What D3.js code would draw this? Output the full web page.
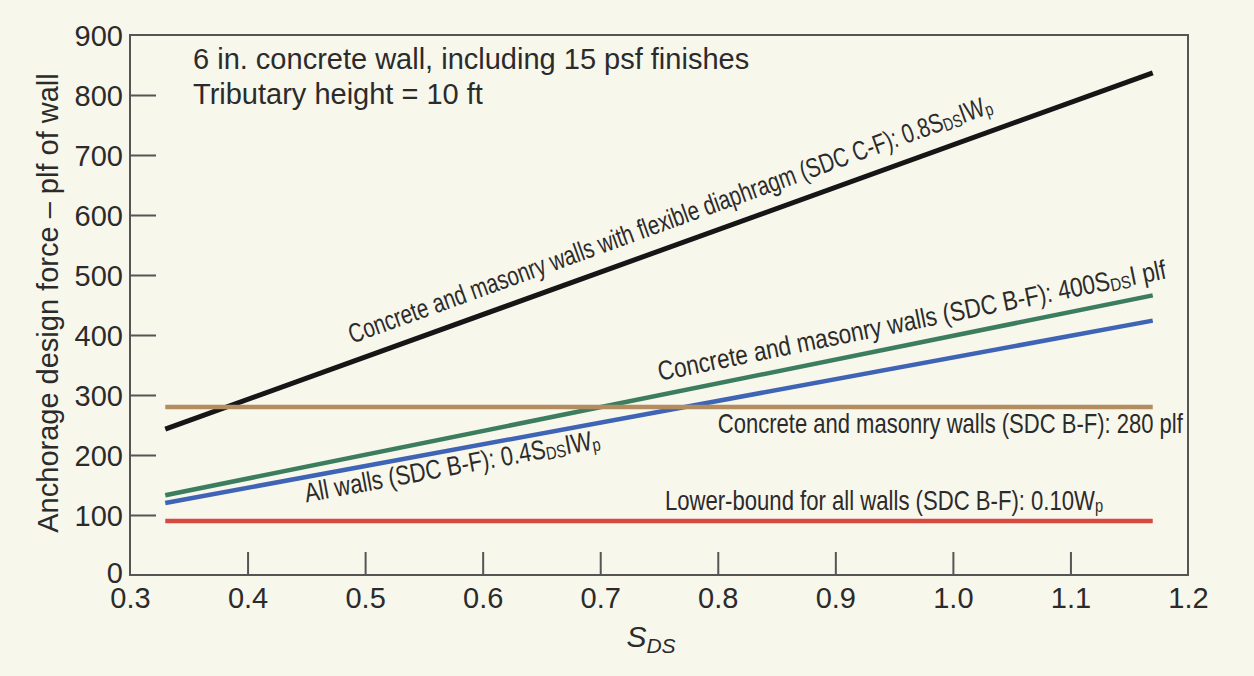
<!DOCTYPE html>
<html>
<head>
<meta charset="utf-8">
<script src="https://cdn.jsdelivr.net/npm/d3@7"></script>
<style>
  html, body { margin: 0; padding: 0; background: #f8f7ec; }
  svg { display: block; }
  text { font-family: "Liberation Sans", Arial, Helvetica, sans-serif; fill: #2b2b2b; }
</style>
</head>
<body>
<svg id="chart" width="1254" height="676"></svg>
<script>
// Spectral response acceleration S_DS on the horizontal axis
const sdsRange = [0.33, 1.17];

// Anchorage design force (plf of wall) at each end of the range
const flexibleDiaphragm = [243, 837];   // 0.8 S_DS I Wp
const concreteMasonry   = [133, 466];   // 400 S_DS I plf
const allWalls          = [120, 424];   // 0.4 S_DS I Wp
const minimumForce      = [280, 280];   // 280 plf
const lowerBound        = [90, 90];     // 0.10 Wp

const xTicks = [0.3, 0.4, 0.5, 0.6, 0.7, 0.8, 0.9, 1.0, 1.1, 1.2];
const yTicks = [0, 100, 200, 300, 400, 500, 600, 700, 800, 900];

const noteLines = ["6 in. concrete wall, including 15 psf finishes", "Tributary height = 10 ft"];

const series = [
  { key: "flex",  values: flexibleDiaphragm, color: "#161616", width: 5 },
  { key: "cm",    values: concreteMasonry,   color: "#3b7d5e", width: 4.5 },
  { key: "all",   values: allWalls,          color: "#3f64b5", width: 4.5 },
  { key: "min",   values: minimumForce,      color: "#b38d5f", width: 4.5 },
  { key: "lower", values: lowerBound,        color: "#d64a40", width: 4.5 }
];

// Line labels: text pieces as [piece, isSubscript]; from/to give the span along S_DS
const labels = [
  { key: "flex",  from: 0.494, to: 1.040, offset: -17,
    parts: [["Concrete and masonry walls with flexible diaphragm (SDC C-F): 0.8S", 0], ["DS", 1], ["IW", 0], ["p", 1]] },
  { key: "cm",    from: 0.753, to: 1.185, offset: -14,
    parts: [["Concrete and masonry walls (SDC B-F): 400S", 0], ["DS", 1], ["I plf", 0]] },
  { key: "all",   from: 0.446, to: 0.697, offset: 25,
    parts: [["All walls (SDC B-F): 0.4S", 0], ["DS", 1], ["IW", 0], ["p", 1]] },
  { key: "min",   from: 0.800, to: 1.196, offset: 26,
    parts: [["Concrete and masonry walls (SDC B-F): 280 plf", 0]] },
  { key: "lower", from: 0.755, to: 1.128, offset: -11,
    parts: [["Lower-bound for all walls (SDC B-F): 0.10W", 0], ["p", 1]] }
];

const margin = { left: 130, right: 66, top: 35, bottom: 101 };
const width = 1254, height = 676;
const svg = d3.select("#chart");

const x = d3.scaleLinear().domain([0.3, 1.2]).range([margin.left, width - margin.right]);
const y = d3.scaleLinear().domain([0, 900]).range([height - margin.bottom, margin.top]);

const axisColor = "#555";

// Frame around the plotting area
svg.append("rect")
  .attr("x", x(0.3)).attr("y", y(900))
  .attr("width", x(1.2) - x(0.3)).attr("height", y(0) - y(900))
  .attr("fill", "none").attr("stroke", axisColor).attr("stroke-width", 2);

// Axes with inward ticks
const yAxis = svg.append("g")
  .attr("transform", `translate(${x(0.3)},0)`)
  .call(d3.axisLeft(y).tickValues(yTicks).tickSize(-26).tickPadding(7).tickFormat(d3.format("d")));
yAxis.select(".domain").remove();
yAxis.selectAll(".tick line")
  .attr("stroke", axisColor).attr("stroke-width", 2)
  .attr("display", d => (d === 0 || d === 900) ? "none" : null);
yAxis.selectAll(".tick text")
  .attr("font-size", 29).attr("dy", d => d === 0 ? "0.27em" : "0.37em").attr("fill", "#2e2e2e")
  .style("font-family", "'Liberation Sans', Arial, sans-serif");

const xAxis = svg.append("g")
  .attr("transform", `translate(0,${y(0)})`)
  .call(d3.axisBottom(x).tickValues(xTicks).tickSize(-23).tickPadding(12).tickFormat(d3.format(".1f")));
xAxis.select(".domain").remove();
xAxis.selectAll(".tick line")
  .attr("stroke", axisColor).attr("stroke-width", 2)
  .attr("display", d => (d === 0.3 || d === 1.2) ? "none" : null);
xAxis.selectAll(".tick text")
  .attr("font-size", 29).attr("fill", "#2e2e2e")
  .style("font-family", "'Liberation Sans', Arial, sans-serif");

// Axis titles
svg.append("text")
  .attr("transform", `translate(58,${(y(0) + y(900)) / 2 - 2}) rotate(-90)`)
  .attr("text-anchor", "middle")
  .attr("font-size", 29)
  .text("Anchorage design force \u2013 plf of wall");

const xt = svg.append("text")
  .attr("x", 651).attr("y", 647)
  .attr("text-anchor", "middle")
  .attr("font-size", 30).attr("font-style", "italic");
xt.append("tspan").text("S");
xt.append("tspan").attr("font-size", 21).attr("dy", 6).text("DS");

// Note in the upper left
svg.append("g").selectAll("text").data(noteLines).join("text")
  .attr("x", 193).attr("y", (d, i) => 69 + i * 35)
  .attr("font-size", 29)
  .text(d => d);

// Lines
const line = d3.line().x(d => x(d[0])).y(d => y(d[1]));
svg.append("g").selectAll("path").data(series).join("path")
  .attr("d", s => line(sdsRange.map((v, i) => [v, s.values[i]])))
  .attr("fill", "none")
  .attr("stroke", s => s.color)
  .attr("stroke-width", s => s.width);

// Labels aligned with their lines, condensed to fit their span
const byKey = Object.fromEntries(series.map(s => [s.key, s]));
labels.forEach(l => {
  const s = byKey[l.key];
  const x0 = x(sdsRange[0]), x1 = x(sdsRange[1]);
  const y0 = y(s.values[0]), y1 = y(s.values[1]);
  const rad = Math.atan2(y1 - y0, x1 - x0);
  const t = (x(l.from) - x0) / (x1 - x0);
  const px = x(l.from), py = y0 + t * (y1 - y0);
  const span = (x(l.to) - x(l.from)) / Math.cos(rad);
  const g = svg.append("g");
  const txt = g.append("text")
    .attr("text-anchor", "start")
    .attr("font-size", 27)
    .attr("fill", "#1e1e1e");
  l.parts.forEach(([piece, sub], i) => {
    const prevSub = i > 0 && l.parts[i - 1][1];
    txt.append("tspan")
      .attr("font-size", sub ? 18 : 27)
      .attr("dy", sub ? 2 : (prevSub ? -2 : 0))
      .text(piece);
  });
  const natural = txt.node().getComputedTextLength();
  const sx = span / natural;
  g.attr("transform",
    `translate(${px},${py}) rotate(${rad * 180 / Math.PI}) translate(0,${l.offset}) scale(${sx},1)`);
});
</script>
</body>
</html>
